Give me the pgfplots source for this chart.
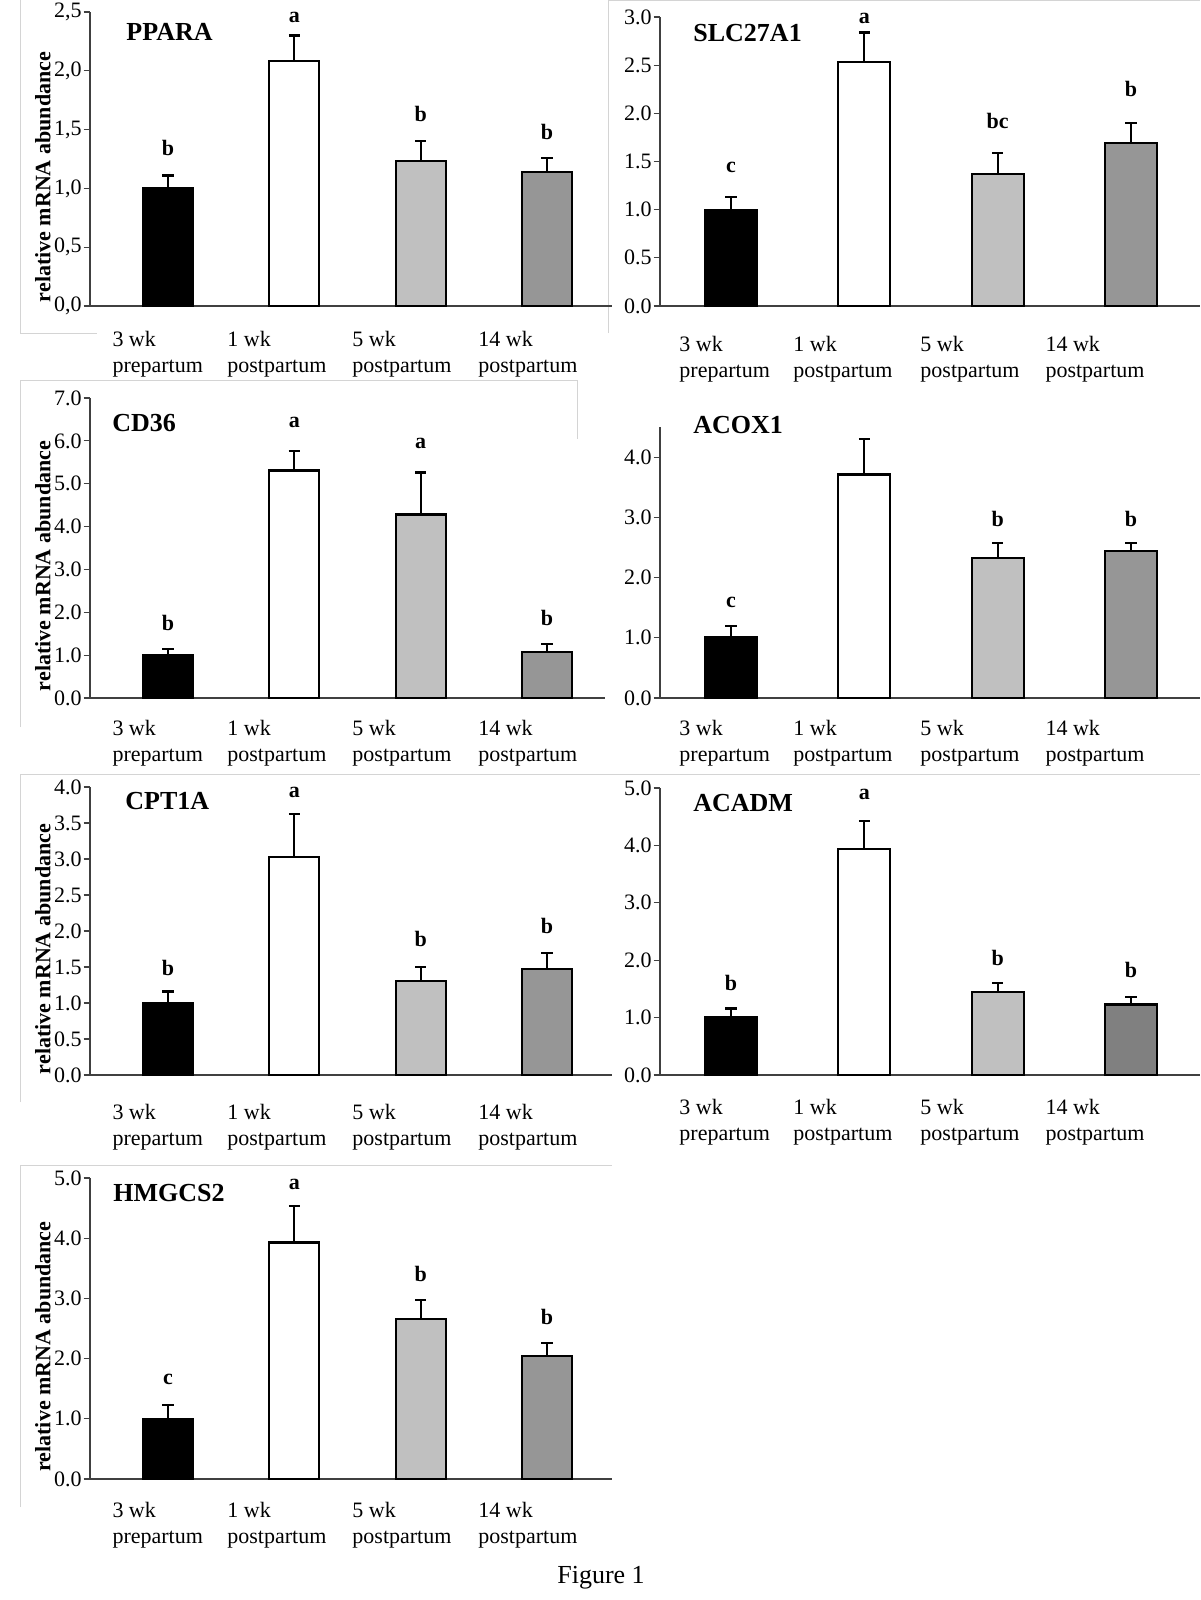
\documentclass[border=0pt]{standalone}
\usepackage{pgfplots}
\pgfplotsset{compat=1.18}
\usepackage{fontspec}
\setmainfont{Liberation Serif}
\definecolor{lgray}{HTML}{C0C0C0}
\definecolor{dgray}{HTML}{969696}
\definecolor{dgrayb}{HTML}{808080}
\definecolor{framec}{HTML}{D4D4D4}
\newcommand\lf{\fontsize{11}{13}\selectfont}
\pgfplotsset{
  panel/.style={
    scale only axis,
    anchor=south west,
    axis x line*=bottom, axis y line*=left,
    axis line style={black!75, line width=0.6pt, -},
    ymin=0,
    xtick style={draw=none},
    ytick style={black!75, line width=0.6pt},
    tick align=outside,
    major tick length=3.2pt,
    /pgf/number format/assume math mode=true,
    tick label style={font=\lf},
    yticklabel style={inner xsep=0.8pt, /pgf/number format/fixed, /pgf/number format/fixed zerofill, /pgf/number format/precision=1},
    xticklabel style={anchor=north west, align=left, inner sep=0pt},
    xticklabels={{3 wk\\prepartum},{1 wk\\postpartum},{5 wk\\postpartum},{14 wk\\postpartum}},
    ylabel style={font=\bfseries\lf, at={([xshift=-23.5pt,yshift=-9pt]axis description cs:0,0.5)}, anchor=center},
    clip=false,
  },
  left/.style={width=261pt, xmin=-0.618, xmax=3.515, xtick={-0.443,0.467,1.457,2.454}, ylabel={relative mRNA abundance}},
  right/.style={width=270pt, xmin=-0.533, xmax=3.518, xtick={-0.39,0.465,1.418,2.356}},
  bb/.style={ybar, bar shift=0pt, bar width=#1, draw=black, line width=1.1pt,
    error bars/y dir=plus, error bars/y explicit,
    error bars/error mark=-,
    error bars/error bar style={line width=1.1pt, black},
    error bars/error mark options={line width=1.1pt, black, mark size=2.8pt, rotate=90}},
}
\tikzset{ttl/.style={anchor=west, inner sep=0pt, font=\bfseries\fontsize{13}{15}\selectfont},
  lettr/.style={font=\bfseries\lf, inner sep=0pt}}
\begin{document}
\begin{tikzpicture}
\useasboundingbox (0,0) rectangle (600pt,-800pt);
\fill[white] (0,0) rectangle (600pt,-800pt);
% faint chart-area frames
\draw[framec, line width=0.5pt] (10pt,0pt) -- (10pt,-166.5pt) -- (48.5pt,-166.5pt);
\draw[framec, line width=0.5pt] (304pt,-166.5pt) -- (304pt,-0.5pt) -- (600pt,-0.5pt);
\draw[framec, line width=0.5pt] (10pt,-363.5pt) -- (10pt,-190pt) -- (288.5pt,-190pt) -- (288.5pt,-219.5pt);
\draw[framec, line width=0.5pt] (10pt,-551pt) -- (10pt,-387pt) -- (600pt,-387pt);
\draw[framec, line width=0.5pt] (10pt,-753.5pt) -- (10pt,-582.5pt) -- (306pt,-582.5pt);

% ---------------- PPARA
\begin{axis}[panel, left, at={(45pt,-153pt)}, height=147pt, ymax=2.5,
  ytick={0,0.5,1,1.5,2,2.5}, yticklabel style={/pgf/number format/use comma},
  xticklabel style={yshift=-9pt}]
\addplot[fill=black, bb=25pt] coordinates {(0,1.00) +- (0,0.11)};
\addplot[fill=white, bb=25pt] coordinates {(1,2.08) +- (0,0.22)};
\addplot[fill=lgray, bb=25pt] coordinates {(2,1.23) +- (0,0.17)};
\addplot[fill=dgray, bb=25pt] coordinates {(3,1.14) +- (0,0.12)};
\node[lettr] at (axis cs:0,1.34) {b};
\node[lettr] at (axis cs:1,2.45) {a};
\node[lettr] at (axis cs:2,1.63) {b};
\node[lettr] at (axis cs:3,1.48) {b};
\end{axis}
\node[ttl] at (63pt,-16pt) {PPARA};

% ---------------- SLC27A1
\begin{axis}[panel, right, at={(330pt,-153pt)}, height=144.5pt, ymax=3,
  ytick={0,0.5,1,1.5,2,2.5,3}, xticklabel style={yshift=-11.5pt}]
\addplot[fill=black, bb=26pt] coordinates {(0,1.00) +- (0,0.13)};
\addplot[fill=white, bb=26pt] coordinates {(1,2.53) +- (0,0.31)};
\addplot[fill=lgray, bb=26pt] coordinates {(2,1.37) +- (0,0.22)};
\addplot[fill=dgray, bb=26pt] coordinates {(3,1.69) +- (0,0.21)};
\node[lettr] at (axis cs:0,1.44) {c};
\node[lettr] at (axis cs:1,2.98) {a};
\node[lettr] at (axis cs:2,1.92) {bc};
\node[lettr] at (axis cs:3,2.25) {b};
\end{axis}
\node[ttl] at (346.5pt,-16.5pt) {SLC27A1};

% ---------------- CD36
\begin{axis}[panel, left, width=257.5pt, xmax=3.46, at={(45pt,-349pt)}, height=150pt, ymax=7,
  ytick={0,1,2,3,4,5,6,7}, xticklabel style={yshift=-7.5pt}]
\addplot[fill=black, bb=25pt] coordinates {(0,0.99) +- (0,0.15)};
\addplot[fill=white, bb=25pt] coordinates {(1,5.31) +- (0,0.46)};
\addplot[fill=lgray, bb=25pt] coordinates {(2,4.28) +- (0,0.98)};
\addplot[fill=dgray, bb=25pt] coordinates {(3,1.08) +- (0,0.18)};
\node[lettr] at (axis cs:0,1.76) {b};
\node[lettr] at (axis cs:1,6.43) {a};
\node[lettr] at (axis cs:2,5.95) {a};
\node[lettr] at (axis cs:3,1.86) {b};
\end{axis}
\node[ttl] at (56pt,-211.5pt) {CD36};

% ---------------- ACOX1
\begin{axis}[panel, right, at={(330pt,-349pt)}, height=135.5pt, ymax=4.5,
  ytick={0,1,2,3,4}, xticklabel style={yshift=-7.5pt}]
\addplot[fill=black, bb=26pt] coordinates {(0,1.01) +- (0,0.19)};
\addplot[fill=white, bb=26pt] coordinates {(1,3.71) +- (0,0.59)};
\addplot[fill=lgray, bb=26pt] coordinates {(2,2.32) +- (0,0.25)};
\addplot[fill=dgray, bb=26pt] coordinates {(3,2.44) +- (0,0.13)};
\node[lettr] at (axis cs:0,1.58) {c};
\node[lettr] at (axis cs:2,2.97) {b};
\node[lettr] at (axis cs:3,2.97) {b};
\end{axis}
\node[ttl] at (346.5pt,-212.5pt) {ACOX1};

% ---------------- CPT1A
\begin{axis}[panel, left, at={(45pt,-537.5pt)}, height=144pt, ymax=4,
  ytick={0,0.5,1,1.5,2,2.5,3,3.5,4}, xticklabel style={yshift=-11pt}]
\addplot[fill=black, bb=25pt] coordinates {(0,1.00) +- (0,0.16)};
\addplot[fill=white, bb=25pt] coordinates {(1,3.03) +- (0,0.60)};
\addplot[fill=lgray, bb=25pt] coordinates {(2,1.31) +- (0,0.19)};
\addplot[fill=dgray, bb=25pt] coordinates {(3,1.47) +- (0,0.23)};
\node[lettr] at (axis cs:0,1.49) {b};
\node[lettr] at (axis cs:1,3.93) {a};
\node[lettr] at (axis cs:2,1.89) {b};
\node[lettr] at (axis cs:3,2.07) {b};
\end{axis}
\node[ttl] at (62.5pt,-400.5pt) {CPT1A};

% ---------------- ACADM
\begin{axis}[panel, right, at={(330pt,-537.5pt)}, height=143.5pt, ymax=5,
  ytick={0,1,2,3,4,5}, xticklabel style={yshift=-8.5pt}]
\addplot[fill=black, bb=26pt] coordinates {(0,1.01) +- (0,0.15)};
\addplot[fill=white, bb=26pt] coordinates {(1,3.94) +- (0,0.48)};
\addplot[fill=lgray, bb=26pt] coordinates {(2,1.45) +- (0,0.16)};
\addplot[fill=dgrayb, bb=26pt] coordinates {(3,1.23) +- (0,0.13)};
\node[lettr] at (axis cs:0,1.61) {b};
\node[lettr] at (axis cs:1,4.88) {a};
\node[lettr] at (axis cs:2,2.04) {b};
\node[lettr] at (axis cs:3,1.83) {b};
\end{axis}
\node[ttl] at (346.5pt,-401.5pt) {ACADM};

% ---------------- HMGCS2
\begin{axis}[panel, left, at={(45pt,-739.5pt)}, height=150.5pt, ymax=5,
  ytick={0,1,2,3,4,5}, xticklabel style={yshift=-8pt}]
\addplot[fill=black, bb=25pt] coordinates {(0,1.00) +- (0,0.23)};
\addplot[fill=white, bb=25pt] coordinates {(1,3.93) +- (0,0.61)};
\addplot[fill=lgray, bb=25pt] coordinates {(2,2.66) +- (0,0.31)};
\addplot[fill=dgray, bb=25pt] coordinates {(3,2.04) +- (0,0.22)};
\node[lettr] at (axis cs:0,1.65) {c};
\node[lettr] at (axis cs:1,4.90) {a};
\node[lettr] at (axis cs:2,3.41) {b};
\node[lettr] at (axis cs:3,2.69) {b};
\end{axis}
\node[ttl] at (56.5pt,-596.5pt) {HMGCS2};

\node[font=\fontsize{13}{15}\selectfont, inner sep=0pt] at (300.5pt,-789pt) {Figure 1};
\end{tikzpicture}
\end{document}
